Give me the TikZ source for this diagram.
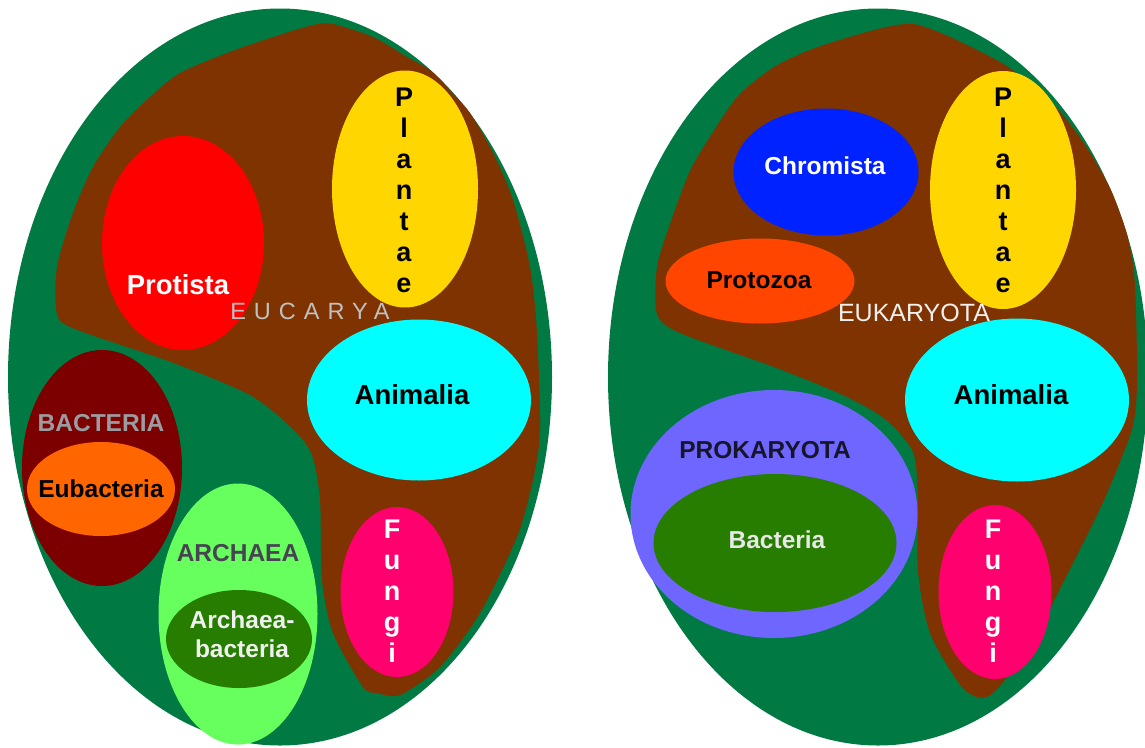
\documentclass[tikz,border=0pt]{standalone}
\usepackage{fontspec}
\setmainfont{Liberation Sans}
\usetikzlibrary{shapes.geometric,positioning}

\definecolor{worldgreen}{RGB}{0,122,66}
\definecolor{eubrown}{RGB}{127,51,0}
\definecolor{protred}{RGB}{255,0,0}
\definecolor{plantyellow}{RGB}{255,214,0}
\definecolor{animcyan}{RGB}{0,255,255}
\definecolor{fungpink}{RGB}{255,0,110}
\definecolor{bactred}{RGB}{125,0,0}
\definecolor{eubactorange}{RGB}{255,102,0}
\definecolor{archlight}{RGB}{102,255,94}
\definecolor{archdark}{RGB}{38,125,0}
\definecolor{chromblue}{RGB}{0,34,255}
\definecolor{protozorange}{RGB}{255,69,0}
\definecolor{prokviolet}{RGB}{111,102,255}

\begin{document}
\begin{tikzpicture}[x=1pt,y=-1pt,
	oval/.style 2 args={ellipse,inner sep=0pt,outer sep=0pt,minimum width=#1pt,minimum height=#2pt},
	taxon/.style={inner sep=0pt,font=\bfseries\fontsize{24.5}{29}\selectfont},
	bigtaxon/.style={inner sep=0pt,font=\bfseries\fontsize{27.5}{30}\selectfont},
	letters/.style={inner sep=0pt,align=center,font=\bfseries\fontsize{27}{31}\selectfont}
	]
	\useasboundingbox (0,0) rectangle (1145,747);

	% Woese
	\node[oval={544}{737},fill=worldgreen] (lworld) at (280,377) {};
	\fill[eubrown] plot[smooth cycle,tension=0.45] coordinates {
		(57,267) (73,213) (93,167) (120,127) (150,97) (180,73) (227,53) (273,37)
		(313,25) (333,24) (373,37) (407,57) (430,70) (447,87) (470,113) (493,153)
		(513,200) (530,267) (537,333) (540,430) (533,480) (517,537) (480,613)
		(440,667) (400,695) (377,693) (363,687) (333,633) (322,580) (320,500)
		(312,455) (293,429) (250,395) (171,362) (75,329) (57,314)};
	\node[oval={162}{214},fill=protred] (lprot) at (183,243) {};
	\node[oval={146}{237},fill=plantyellow] (lplant) at (405,189) {};
	\node[oval={224}{161},fill=animcyan] (lanim) at (419,400) {};
	\node[oval={113}{170},fill=fungpink] (lfung) at (397,592) {};
	\node[oval={160}{236},fill=bactred] (lbact) at (102,468) {};
	\node[oval={148}{94},fill=eubactorange] (leubact) at (101,489) {};
	\node[oval={159}{261},fill=archlight] (larch) at (238,614) {};
	\node[oval={146}{98},fill=archdark] (larchbact) at (239,639) {};

	\node[bigtaxon,text=white] (lprottxt) at (178,285) {Protista};
	\node[inner sep=0pt,text={rgb,255:red,192;green,192;blue,192},
		font=\fontsize{23.5}{27}\selectfont\addfontfeature{LetterSpace=34}] (leutxt) at (310,311) {EUCARYA};
	\node[letters] (lplanttxt) at (404,190) {P\\l\\a\\n\\t\\a\\e};
	\node[bigtaxon] (lanimtxt) at (412,395) {Animalia};
	\node[letters,text=white] (lfungtxt) at (392,591) {F\\u\\n\\g\\i};
	\node[taxon,text={rgb,255:red,155;green,155;blue,160}] (lbacttxt) at (101,423) {BACTERIA};
	\node[taxon] (leubacttxt) at (101,489) {Eubacteria};
	\node[taxon,text={rgb,255:red,72;green,66;blue,82}] (larchtxt) at (238,553) {ARCHAEA};
	\node[taxon,align=center,text={rgb,255:red,240;green,240;blue,240}] (larchbacttxt) at (242,634) {Archaea-\\bacteria};

	% Cavalier-Smith
	\node[oval={540}{737},fill=worldgreen] (rworld) at (878,377) {};
	\fill[eubrown] plot[smooth cycle,tension=0.45] coordinates {
		(657,267) (670,224) (690,171) (715,129) (739,95) (774,67) (815,48) (878,29)
		(913,24) (948,36) (1000,62) (1034,86) (1062,114) (1087,148) (1111,190)
		(1128,238) (1135,286) (1137,381) (1132,429) (1104,500) (1069,571)
		(1034,638) (1000,686) (982,698) (961,686) (930,633) (918,571) (918,500)
		(913,452) (885,419) (843,395) (774,367) (680,333) (657,314)};
	\node[oval={185}{127},fill=chromblue] (rchrom) at (826,172) {};
	\node[oval={189}{85},fill=protozorange] (rprotoz) at (760,281) {};
	\node[oval={146}{238},fill=plantyellow] (rplant) at (1003,190) {};
	\node[oval={224}{163},fill=animcyan] (ranim) at (1017,400) {};
	\node[oval={113}{174},fill=fungpink] (rfung) at (995,592) {};
	\node[oval={287}{248},fill=prokviolet] (rprok) at (774,514) {};
	\node[oval={243}{138},fill=archdark] (rbact) at (775,543) {};

	\node[taxon,text=white] (rchromtxt) at (825,166) {Chromista};
	\node[taxon] (rprotoztxt) at (759,280) {Protozoa};
	\node[inner sep=0pt,text={rgb,255:red,240;green,240;blue,240},
		font=\fontsize{25}{29}\selectfont] (reutxt) at (914,313) {EUKARYOTA};
	\node[letters] (rplanttxt) at (1003,190) {P\\l\\a\\n\\t\\a\\e};
	\node[bigtaxon] (ranimtxt) at (1011,395) {Animalia};
	\node[letters,text=white] (rfungtxt) at (993,591) {F\\u\\n\\g\\i};
	\node[taxon,text={rgb,255:red,22;green,22;blue,42}] (rproktxt) at (765,450) {PROKARYOTA};
	\node[taxon,text={rgb,255:red,232;green,232;blue,232}] (rbacttxt) at (777,540) {Bacteria};
\end{tikzpicture}
\end{document}
